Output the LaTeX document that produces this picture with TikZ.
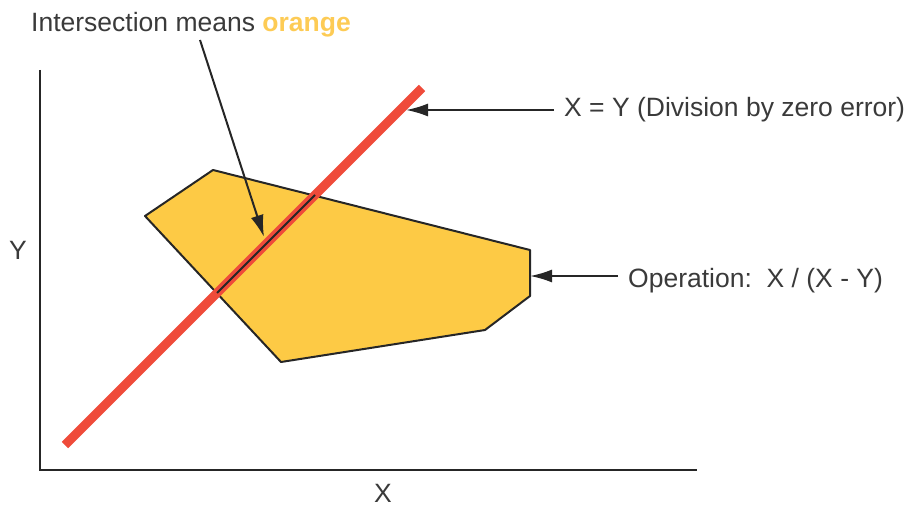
\documentclass[tikz,border=0pt]{standalone}
\usepackage{fontspec}
\setmainfont{Liberation Sans}
\usetikzlibrary{arrows.meta}
\definecolor{linered}{HTML}{EF4B3A}
\definecolor{regionfill}{HTML}{FDCA45}
\definecolor{orangetxt}{HTML}{FDCB55}
\definecolor{txtgray}{HTML}{3A3A3A}
\tikzset{
  lbl/.style={inner sep=0pt,text=txtgray,font=\fontsize{26.5}{30}\selectfont},
  pointer/.style={-{Latex[length=22pt,width=13pt]},line width=2pt,draw=black!85},
}
\begin{document}
\begin{tikzpicture}[x=1pt,y=-1pt]
  \useasboundingbox (0,0) rectangle (909,508);
  % axes
  \coordinate (ytop) at (40,70);
  \coordinate (origin) at (40,470);
  \coordinate (xend) at (697,470);
  \draw[draw=black!85,line width=2.6pt] (ytop) -- (origin) -- (xend);
  \node[lbl] (ylbl) at (18,250) {Y};
  \node[lbl] (xlbl) at (383,493) {X};
  % region of the operation
  \draw[fill=regionfill,draw=black!85,line width=2pt,line join=round]
    (145,216) -- (213,170) -- (530,250) -- (530,296) -- (485,330)
    -- (281,362) -- cycle;
  % the line X = Y
  \coordinate (lineA) at (65,445);
  \coordinate (lineB) at (422,88);
  \draw[linered,line width=9pt] (lineA) -- (lineB);
  \coordinate (cutA) at (217,293);
  \coordinate (cutB) at (315,195);
  \draw[draw=black!85,line width=2pt] (cutA) -- (cutB);
  % labels and pointers
  \node[lbl,anchor=base west] (intlbl) at (31,32)
    {Intersection means \textcolor{orangetxt}{\bfseries orange}};
  \coordinate (inttail) at (200,40);
  \coordinate (inthead) at (264,237);
  \draw[pointer] (inttail) -- (inthead);
  \node[lbl,anchor=base west] (eqlbl) at (564,117)
    {X = Y (Division by zero error)};
  \coordinate (eqhead) at (406,110);
  \draw[pointer] (eqlbl.west |- eqhead) ++(-10,0) -- (eqhead);
  \node[lbl,anchor=base west] (oplbl) at (628,287)
    {Operation:\ \ X / (X - Y)};
  \coordinate (ophead) at (530,276);
  \draw[pointer] (oplbl.west |- ophead) ++(-10,0) -- (ophead);
\end{tikzpicture}
\end{document}
